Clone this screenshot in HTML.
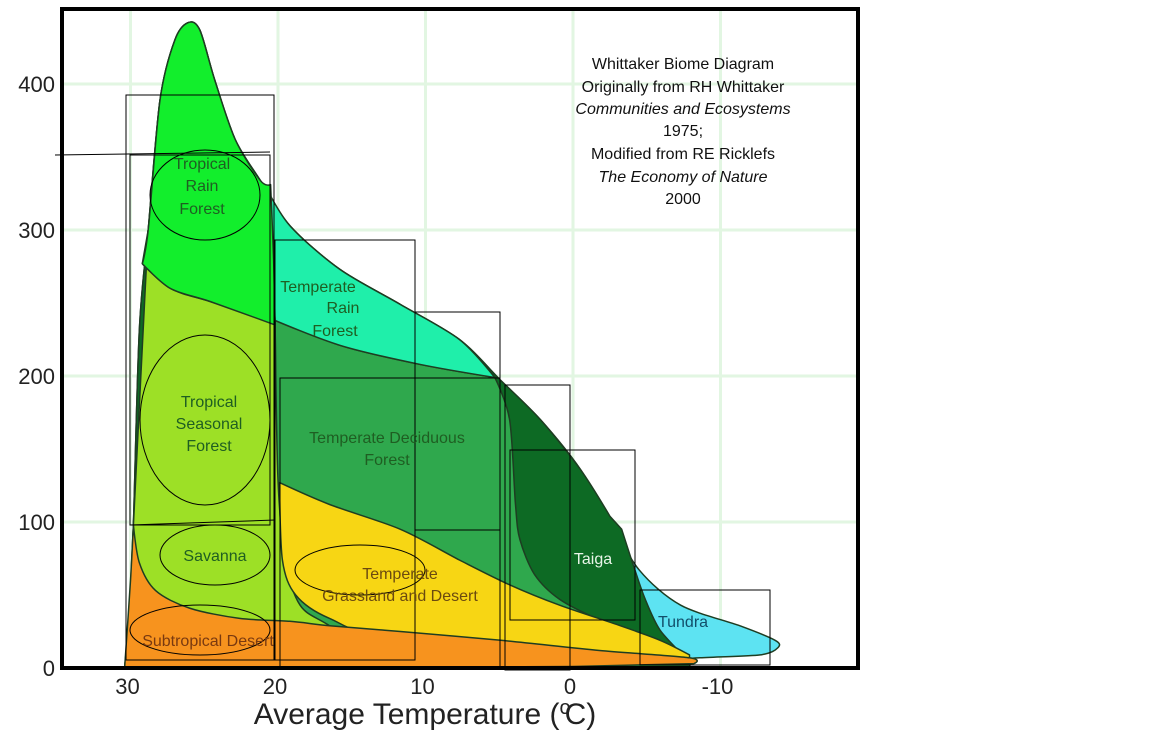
<!DOCTYPE html>
<html><head><meta charset="utf-8"><style>
html,body{margin:0;padding:0;background:#fff;}
svg{display:block;font-family:"Liberation Sans",sans-serif;}
</style></head><body>
<svg id="chart" width="1152" height="738" viewBox="0 0 1152 738">
<defs><clipPath id="plotclip"><rect x="64" y="11" width="792" height="655"/></clipPath></defs>
<g id="grid"></g>
<g id="regions" clip-path="url(#plotclip)"></g>
<g id="scribbles" fill="none" stroke="#000" stroke-width="1">
<rect x="126" y="95" width="148" height="565"/>
<rect x="130" y="155" width="140" height="370"/>
<rect x="275" y="240" width="140" height="420"/>
<rect x="280" y="378" width="220" height="290"/>
<rect x="415" y="312" width="85" height="218"/>
<rect x="505" y="385" width="65" height="285"/>
<rect x="510" y="450" width="125" height="170"/>
<rect x="640" y="590" width="130" height="75"/>
<ellipse cx="205" cy="420" rx="65" ry="85"/>
<ellipse cx="205" cy="195" rx="55" ry="45"/>
<ellipse cx="215" cy="555" rx="55" ry="30"/>
<ellipse cx="360" cy="570" rx="65" ry="25"/>
<ellipse cx="200" cy="630" rx="70" ry="25"/>
<line x1="55" y1="155" x2="270" y2="152"/>
<line x1="130" y1="525" x2="275" y2="520"/>
</g>
<g id="labels" fill="#1f5e22" font-size="16" text-anchor="middle">
<text x="202" y="169">Tropical</text>
<text x="202" y="191">Rain</text>
<text x="202" y="214">Forest</text>
<text x="318" y="292">Temperate</text>
<text x="343" y="313">Rain</text>
<text x="335" y="336">Forest</text>
<text x="209" y="407">Tropical</text>
<text x="209" y="429">Seasonal</text>
<text x="209" y="451">Forest</text>
<text x="387" y="443">Temperate Deciduous</text>
<text x="387" y="465">Forest</text>
<text x="215" y="561">Savanna</text>
<text x="400" y="579" fill="#6b4a10">Temperate</text>
<text x="400" y="601" fill="#6b4a10">Grassland and Desert</text>
<text x="208" y="646" fill="#7a3a10">Subtropical Desert</text>
<text x="593" y="564" fill="#e8f5e8">Taiga</text>
<text x="683" y="627" fill="#124f6a">Tundra</text>
</g>
<g id="title" font-size="16" text-anchor="middle" fill="#111">
<text x="683" y="69">Whittaker Biome Diagram</text>
<text x="683" y="92">Originally from RH Whittaker</text>
<text x="683" y="114" font-style="italic">Communities and Ecosystems</text>
<text x="683" y="136">1975;</text>
<text x="683" y="159">Modified from RE Ricklefs</text>
<text x="683" y="182" font-style="italic">The Economy of Nature</text>
<text x="683" y="204">2000</text>
</g>
<rect x="62" y="9" width="796" height="659" fill="none" stroke="#000" stroke-width="4"/>
<g id="axes" font-size="22" fill="#222"></g>
<text x="425" y="724" font-size="30" text-anchor="middle" fill="#222">Average Temperature (<tspan font-size="20" dy="-10">o</tspan><tspan dy="10" dx="-6">C)</tspan></text>
</svg>
<script>
const yTicks = [0, 100, 200, 300, 400];
const xTicks = [30, 20, 10, 0, -10];
const tundra = [[30.4,0],[30.0,47],[29.8,98],[29.4,232],[28.8,300],[28.0,389],[27.0,430],[26.1,442],[25.3,437],[24.3,403],[22.9,362],[21.2,334],[19.2,303],[15.8,273],[11.7,249],[7.7,225],[4.9,197],[2.2,170],[-0.5,136],[-2.5,101],[-4.5,67],[-7.3,43],[-11.3,29],[-13.7,19],[-13.9,14],[-12.7,9],[-8.6,7],[-4.5,4],[0.9,2],[11.7,0.5]];
const taiga = [[30.4,0],[30.0,47],[29.8,98],[29.4,232],[28.8,300],[28.0,389],[27.0,430],[26.1,442],[25.3,437],[24.3,403],[22.9,362],[21.2,334],[19.2,303],[15.8,273],[11.7,249],[7.7,225],[4.9,197],[2.2,170],[-0.5,136],[-2.5,104],[-3.3,95],[-4.2,67],[-4.9,47],[-5.9,26],[-7.6,7],[-7.9,1],[11.7,0.5]];
const deciduous = [[20.2,240],[15.8,221],[10.4,208],[5.3,199],[4.3,170],[3.9,112],[3.6,88],[2.6,64],[0.9,47],[-1.8,33],[-4.5,23],[-7.6,8],[-7.9,1],[20.0,0]];
const tempRain = [[20.9,331],[19.2,303],[15.8,273],[11.7,249],[7.7,225],[5.3,199],[10.4,208],[15.8,221],[20.2,238]];
const seasonal = [[28.8,300],[29.8,98],[30.0,47],[29.9,0],[11.7,0],[16.5,29],[18.5,43],[19.5,74],[20.0,129],[20.2,238],[24.6,251],[27.3,260],[29.2,277]];
const tropRain = [[29.2,277],[28.8,300],[28.0,389],[27.0,430],[26.1,442],[25.3,437],[24.3,403],[22.9,362],[21.2,334],[20.5,331],[20.3,280],[20.2,235],[24.6,251],[27.3,260]];
const grassland = [[19.9,127],[16.5,112],[11.7,95],[7.7,74],[4.3,57],[0.9,43],[-3.2,29],[-5.9,19],[-7.9,9],[-7.9,5],[11.7,20],[16.5,34],[18.8,50],[19.7,74]];
const desert = [[30.4,0],[30.0,60],[29.8,98],[29.4,72],[28.3,53],[26.0,41],[22.6,34],[19.2,32],[16.5,29],[11.7,25],[4.9,19],[-1.8,12],[-7.9,7],[-8.2,3],[0,1],[20,0]];

const NS = 'http://www.w3.org/2000/svg';
function xs(t){ return 573 - t*14.75; }
function ys(p){ return 668 - p*1.46; }
function pathFor(pts, sharp){
  const P = pts.map(d=>[xs(d[0]), ys(d[1])]);
  const n = P.length;
  const isCorner = i => pts[i][1] <= 3 || sharp.indexOf(i) >= 0;
  let s = 'M'+P[0][0].toFixed(1)+','+P[0][1].toFixed(1);
  const k = 0.15;
  for(let i=0;i<n;i++){
    const a=(i-1+n)%n, b=(i+1)%n, c=(i+2)%n;
    const p0=P[a], p1=P[i], p2=P[b], p3=P[c];
    const c1 = isCorner(i) ? p1 : [p1[0]+(p2[0]-p0[0])*k, p1[1]+(p2[1]-p0[1])*k];
    const c2 = isCorner(b) ? p2 : [p2[0]-(p3[0]-p1[0])*k, p2[1]-(p3[1]-p1[1])*k];
    s += ' C'+c1[0].toFixed(1)+','+c1[1].toFixed(1)+' '+c2[0].toFixed(1)+','+c2[1].toFixed(1)+' '+p2[0].toFixed(1)+','+p2[1].toFixed(1);
  }
  return s+' Z';
}
const grid = document.getElementById('grid');
const axes = document.getElementById('axes');
yTicks.forEach(v=>{
  if(v>0){
    const l=document.createElementNS(NS,'line');
    
    
    l.setAttribute('x1',64);l.setAttribute('x2',856);
    l.setAttribute('y1',ys(v));l.setAttribute('y2',ys(v));
    l.setAttribute('stroke','#e2f6e2');l.setAttribute('stroke-width',3);
    grid.appendChild(l);
  }
  const t=document.createElementNS(NS,'text');
  
  
  t.setAttribute('x',55);t.setAttribute('y',ys(v)+8);
  t.setAttribute('text-anchor','end');
  t.textContent=v;
  axes.appendChild(t);
});
xTicks.forEach(v=>{
  const l=document.createElementNS(NS,'line');
  
  
  l.setAttribute('x1',xs(v));l.setAttribute('x2',xs(v));
  l.setAttribute('y1',11);l.setAttribute('y2',666);
  l.setAttribute('stroke','#e2f6e2');l.setAttribute('stroke-width',3);
  grid.appendChild(l);
  const t=document.createElementNS(NS,'text');
  
  
  t.setAttribute('x',xs(v)-3);t.setAttribute('y',694);
  t.setAttribute('text-anchor','middle');
  t.textContent=v;
  axes.appendChild(t);
});
const regions = document.getElementById('regions');
const layers = [
  ['region-tundra', tundra, '#5de3f2', []],
  ['region-taiga', taiga, '#0d6a24', [19,20]],
  ['region-temperate-deciduous-forest', deciduous, '#2fa84d', [0,3]],
  ['region-temperate-rain-forest', tempRain, '#1fefaa', [0,5,8]],
  ['region-tropical-seasonal-forest', seasonal, '#9de026', [0,9,12]],
  ['region-tropical-rain-forest', tropRain, '#12ee2c', [0,9,11]],
  ['region-temperate-grassland', grassland, '#f7d614', [0,8,9]],
  ['region-subtropical-desert', desert, '#f7931e', [2,13]]
];
layers.forEach(L=>{
  const p=document.createElementNS(NS,'path');
  
  
  p.setAttribute('d',pathFor(L[1], L[3]));
  p.setAttribute('fill',L[2]);
  p.setAttribute('stroke','#1e3d22');
  p.setAttribute('stroke-width','1.5');
  p.setAttribute('stroke-linejoin','round');
  regions.appendChild(p);
});
</script>
</body></html>
